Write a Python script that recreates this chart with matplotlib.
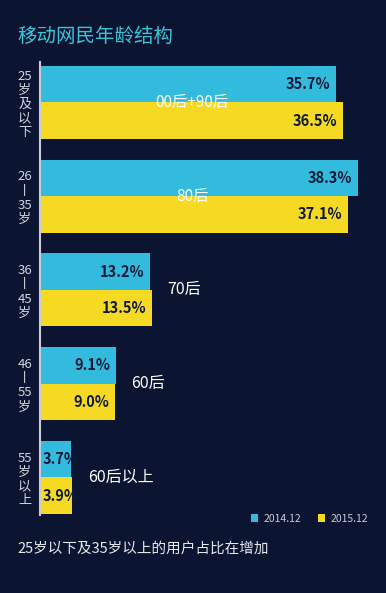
import matplotlib
matplotlib.use("Agg")
import matplotlib.pyplot as plt

plt.rcParams['font.family'] = ['Noto Sans CJK SC', 'DejaVu Sans']

categories = ["25\n岁\n及\n以\n下", "26\n丨\n35\n岁", "36\n丨\n45\n岁", "46\n丨\n55\n岁", "55\n岁\n以\n上"]
generations = ["00后+90后", "80后", "70后", "60后", "60后以上"]
series_names = ["2014.12", "2015.12"]
values_2014 = [35.7, 38.3, 13.2, 9.1, 3.7]
values_2015 = [36.5, 37.1, 13.5, 9.0, 3.9]
title = "移动网民年龄结构"
footer = "25岁以下及35岁以上的用户占比在增加"

BG = "#0b1532"
BLUE = "#33bbdd"
YELLOW = "#f6d923"
LABEL_DARK = "#0f1a3a"

fig = plt.figure(figsize=(3.86, 5.93), dpi=100, facecolor=BG)
ax = fig.add_axes([40/386, 1-515/593, 346/386, 453/593])
ax.set_facecolor(BG)

h = 0.39
ys = list(range(len(categories)))
ax.barh([y - h/2 for y in ys], values_2014, height=h, color=BLUE, label=series_names[0])
ax.barh([y + h/2 for y in ys], values_2015, height=h, color=YELLOW, label=series_names[1])

def value_label(v, y):
    if v < 6:
        ax.annotate(f"{v:.1f}%", (0, y), xytext=(2, 0), textcoords="offset points",
                    ha="left", va="center", fontsize=10.5, fontweight="bold", color=LABEL_DARK)
    else:
        ax.annotate(f"{v:.1f}%", (v, y), xytext=(-4, 0), textcoords="offset points",
                    ha="right", va="center", fontsize=10.5, fontweight="bold", color=LABEL_DARK)

for y, v1, v2 in zip(ys, values_2014, values_2015):
    value_label(v1, y - h/2)
    value_label(v2, y + h/2)

for i, (y, g) in enumerate(zip(ys, generations)):
    if i < 2:
        ax.text(0.44, y, g, transform=ax.get_yaxis_transform(), ha="center", va="center",
                fontsize=11, color="white")
    else:
        m = max(values_2014[i], values_2015[i])
        ax.annotate(g, (m, y), xytext=(11, 0), textcoords="offset points",
                    ha="left", va="center", fontsize=11.5, color="white")

ax.set_xlim(0, 41.7)
ax.set_ylim(4.40, -0.43)
ax.set_xticks([])
ax.set_yticks(ys)
ax.set_yticklabels(categories, fontsize=9.5, color="#d0d4dc", linespacing=1.12)
ax.tick_params(axis="y", length=0, pad=11)
for lbl in ax.get_yticklabels():
    lbl.set_horizontalalignment("center")
for s in ["top", "right", "bottom"]:
    ax.spines[s].set_visible(False)
ax.spines["left"].set_color("#c8ccd6")
ax.spines["left"].set_linewidth(1.5)

ax.legend(loc="lower right", bbox_to_anchor=(0.975, -0.040), ncol=2, frameon=False,
          fontsize=7.5, handlelength=0.7, handleheight=0.7, handletextpad=0.5,
          columnspacing=1.6, labelcolor="#c8ccd6")

fig.text(17/386, 1-36/593, title, fontsize=14, color="#3cc3d9", ha="left", va="center")
fig.text(17/386, 1-549/593, footer, fontsize=10.5, color="#e6e8ee", ha="left", va="center")

fig.savefig("out.png", dpi=100, facecolor=BG)
